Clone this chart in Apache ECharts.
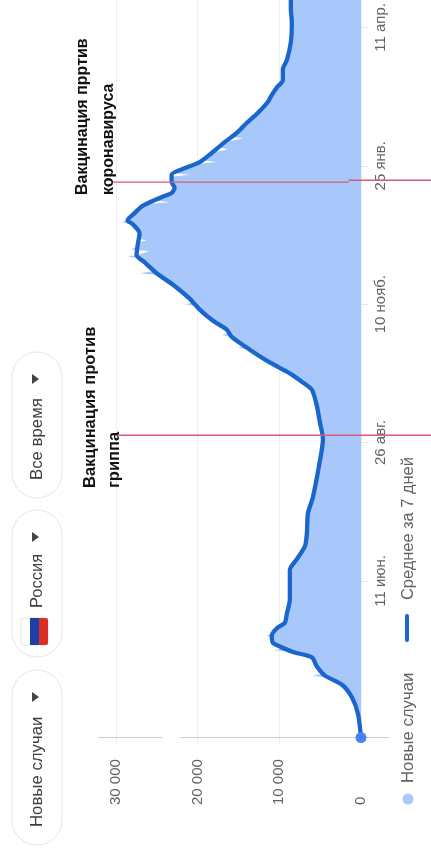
<!DOCTYPE html>
<html><head><meta charset="utf-8">
<style>html,body{margin:0;padding:0;background:#fff}#c{width:431px;height:848px}</style>
<script src="https://cdn.jsdelivr.net/npm/echarts@6/dist/echarts.min.js"></script>
</head><body><div id="c"></div>
<script>
const avgDates = ['2020-03-17','2020-03-30','2020-04-08','2020-04-15','2020-04-20','2020-04-25','2020-04-30','2020-05-03','2020-05-06','2020-05-08','2020-05-12','2020-05-16','2020-05-19','2020-05-24','2020-06-01','2020-06-17','2020-06-23','2020-06-30','2020-07-07','2020-07-18','2020-07-27','2020-08-13','2020-08-28','2020-09-06','2020-09-15','2020-09-24','2020-09-28','2020-10-03','2020-10-09','2020-10-16','2020-10-23','2020-10-27','2020-11-01','2020-11-07','2020-11-13','2020-11-20','2020-11-27','2020-12-03','2020-12-07','2020-12-12','2020-12-19','2020-12-24','2020-12-26','2020-12-30','2021-01-03','2021-01-08','2021-01-10','2021-01-13','2021-01-16','2021-01-20','2021-01-23','2021-01-27','2021-02-01','2021-02-07','2021-02-12','2021-02-18','2021-02-23','2021-03-01','2021-03-04','2021-03-09','2021-03-13','2021-03-19','2021-03-24','2021-04-03','2021-04-14','2021-04-21','2021-04-26'];
const avgValues = [0,370,1100,2330,4420,5400,6010,8340,9940,10800,10920,10300,9330,9080,8710,8710,7850,6870,6630,6500,5890,5150,4660,5030,5400,6010,7120,8710,11170,13620,15830,16440,18160,19750,20980,22820,25030,26500,27480,27360,27120,27980,28590,27730,26750,24300,23190,22820,23190,23190,21960,19750,18280,16690,15210,13870,12640,11410,11040,10310,9570,9570,9080,8590,8470,8590,8590];
const dailyDates = ['2020-03-17','2020-03-30','2020-04-08','2020-04-15','2020-04-19','2020-04-20','2020-04-21','2020-04-25','2020-04-30','2020-05-03','2020-05-04','2020-05-05','2020-05-08','2020-05-11','2020-05-12','2020-05-13','2020-05-16','2020-05-19','2020-05-24','2020-06-01','2020-06-17','2020-06-23','2020-06-30','2020-07-07','2020-07-18','2020-07-27','2020-08-13','2020-08-28','2020-09-06','2020-09-15','2020-09-24','2020-09-28','2020-10-03','2020-10-09','2020-10-16','2020-10-17','2020-10-18','2020-10-23','2020-10-24','2020-10-25','2020-11-01','2020-11-07','2020-11-09','2020-11-10','2020-11-11','2020-11-13','2020-11-20','2020-11-26','2020-11-27','2020-11-28','2020-12-03','2020-12-04','2020-12-05','2020-12-06','2020-12-07','2020-12-08','2020-12-09','2020-12-10','2020-12-11','2020-12-12','2020-12-14','2020-12-15','2020-12-16','2020-12-19','2020-12-24','2020-12-25','2020-12-26','2020-12-30','2021-01-03','2021-01-04','2021-01-05','2021-01-06','2021-01-08','2021-01-10','2021-01-13','2021-01-16','2021-01-19','2021-01-20','2021-01-21','2021-01-23','2021-01-26','2021-01-27','2021-01-28','2021-02-01','2021-02-02','2021-02-03','2021-02-04','2021-02-07','2021-02-08','2021-02-09','2021-02-10','2021-02-12','2021-02-18','2021-02-23','2021-03-01','2021-03-04','2021-03-09','2021-03-13','2021-03-19','2021-03-24','2021-04-03','2021-04-14','2021-04-21','2021-04-26'];
const dailyValues = [0,370,1100,2330,4300,6010,4600,5400,6010,8340,10670,9500,10800,11000,11530,10900,10300,9330,9080,8710,8710,7850,6870,6630,6500,5890,5150,4660,5030,5400,6010,7120,8710,11170,13620,15090,14000,15830,17050,16100,18160,19750,20300,21600,20300,20980,22820,24800,27120,25400,26500,26700,27000,28590,27480,27400,25890,28100,28100,27360,27300,26260,27250,27120,27980,29330,28590,27730,26750,26200,23440,25500,24300,23190,22820,23190,23190,20980,22900,21960,20100,17670,19450,18280,18100,16300,17500,16690,16500,14480,15900,15210,13870,12640,11410,11040,10310,9570,9570,9080,8590,8470,8590,8590];
const tickDates = ['2020-06-11','2020-08-26','2020-11-10','2021-01-25','2021-04-11'];
const tickLabels = ['11 июн.','26 авг.','10 нояб.','25 янв.','11 апр.'];
const firstDay = '2020-03-14', lastDay = '2021-04-26';
// reference lines: [from value, to value, date]
const vaccineLines = [[29700,-8590,'2020-08-30'],[30400,1500,'2021-01-16'],[1500,-8590,'2021-01-17']];
const hoverLines = [[32150,24300,'2020-03-17'],[22090,-3440,'2020-03-17']];
const startPoint = [avgValues[0], avgDates[0]];
const seriesNames = ['Новые случаи','Среднее за 7 дней'];

// Calendar of the category axis, one entry a day.
const days = [];
for (let d = new Date(firstDay+'T00:00:00Z'); d <= new Date(lastDay+'T00:00:00Z'); d = new Date(d.getTime()+86400000)) {
  days.push(d.toISOString().slice(0,10));
}

const FONT = '"Liberation Sans", Arial, sans-serif';
const GREY = '#5f6368', DARK = '#3c4043';

function segmentSeries(list, stroke, width, dash) {
  return {
    type:'custom', silent:true, clip:false, z:5, animation:false,
    coordinateSystem:'cartesian2d',
    data:list.map(l => [l[0], days.indexOf(l[2]), l[1]]),
    encode:{x:0,y:1},
    renderItem(params, api){
      const a = api.coord([api.value(0), api.value(1)]);
      const b = api.coord([api.value(2), api.value(1)]);
      return {type:'line', shape:{x1:a[0],y1:a[1],x2:b[0],y2:b[1]},
              style:{stroke, lineWidth:width, lineDash:dash||null, fill:null}};
    }
  };
}
function rotText(text,x,y,size,color,weight){
  return {type:'text',x,y,rotation:Math.PI/2,silent:true,z:20,
    style:{text,fill:color,font:(weight||'normal')+' '+size+'px '+FONT,textAlign:'left',textVerticalAlign:'middle'}};
}
function pill(y,h){
  return {type:'rect',shape:{x:12,y,width:50,height:h,r:25},silent:true,z:15,
    style:{fill:'#fff',stroke:'#e6e6e6',lineWidth:1}};
}
function arrow(cy){
  return {type:'polygon',shape:{points:[[32,cy-5],[32,cy+5],[39,cy]]},silent:true,z:20,style:{fill:'#444'}};
}
const chrome = [
  pill(670,175),pill(510,147),pill(352,146),
  rotText('Новые случаи',37,827,16.8,DARK),arrow(697),
  {type:'rect',shape:{x:21,y:618,width:27,height:27,r:3},silent:true,z:18,style:{fill:'#fff',stroke:'#e4e4e4',lineWidth:1}},
  {type:'rect',shape:{x:30,y:618,width:9,height:27},silent:true,z:19,style:{fill:'#1c3fa8'}},
  {type:'rect',shape:{x:39,y:618,width:9,height:27,r:[0,2,2,0]},silent:true,z:19,style:{fill:'#dd2e26'}},
  rotText('Россия',37,608,16.5,DARK),arrow(537),
  rotText('Все время',37,480,16.8,DARK),arrow(379),
  rotText('Вакцинация против',90,488,16.5,'#111','bold'),
  rotText('гриппа',114,488,16.5,'#111','bold'),
  rotText('Вакцинация прртив',83,195,16,'#111','bold'),
  rotText('коронавируса',109,195,16,'#111','bold'),
  {type:'circle',shape:{cx:408,cy:799,r:5.5},silent:true,z:20,style:{fill:'#a8c7fa'}},
  rotText(seriesNames[0],408,783,16.8,GREY),
  {type:'rect',shape:{x:405,y:614,width:4,height:28,r:2},silent:true,z:20,style:{fill:'#1a66cc'}},
  rotText(seriesNames[1],408,600,16.4,GREY)
];

const chart = echarts.init(document.getElementById('c'),null,{renderer:'canvas'});
const isTick = (i,v) => tickDates.includes(v);
chart.setOption({
  animation:false,
  backgroundColor:'#fff',
  textStyle:{fontFamily:FONT},
  grid:{left:116,right:70,top:0,bottom:105,containLabel:false},
  xAxis:{
    type:'value',inverse:true,min:0,max:30000,interval:10000,position:'bottom',
    axisLine:{show:false},axisTick:{show:false},
    splitLine:{show:true,lineStyle:{color:'#eeeeee',width:1}},
    axisLabel:{
      rotate:90,align:'left',verticalAlign:'middle',margin:62,fontSize:15,color:GREY,fontFamily:FONT,
      formatter:v=>String(v).replace(/\B(?=(\d{3})+$)/g,' ')
    }
  },
  yAxis:{
    type:'category',data:days,boundaryGap:false,position:'right',
    splitLine:{show:false},
    axisLine:{show:false},
    axisTick:{show:true,length:7,interval:isTick,lineStyle:{color:'#e6e6e6'}},
    axisLabel:{
      rotate:90,align:'center',verticalAlign:'middle',margin:20,fontSize:15,color:GREY,fontFamily:FONT,
      interval:isTick,hideOverlap:false,
      formatter:v=>tickLabels[tickDates.indexOf(v)]||''
    }
  },
  series:[
    {name:seriesNames[0],type:'line',showSymbol:false,symbol:'none',z:1,
     lineStyle:{width:0},areaStyle:{color:'#a8c7fa',opacity:1},
     data:dailyDates.map((d,i)=>[dailyValues[i],days.indexOf(d)])},
    {name:seriesNames[1],type:'line',showSymbol:false,symbol:'none',smooth:0.25,z:3,
     lineStyle:{width:4.3,color:'#1a66cc',cap:'round',join:'round'},
     data:avgDates.map((d,i)=>[avgValues[i],days.indexOf(d)])},
    {type:'scatter',z:6,symbolSize:11,itemStyle:{color:'#4285f4',opacity:1},
     data:[[startPoint[0],days.indexOf(startPoint[1])]]},
    segmentSeries(hoverLines,'#999999',1,[1,1]),
    segmentSeries(vaccineLines,'#d95c76',1.4)
  ],
  graphic:chrome
});
</script></body></html>
